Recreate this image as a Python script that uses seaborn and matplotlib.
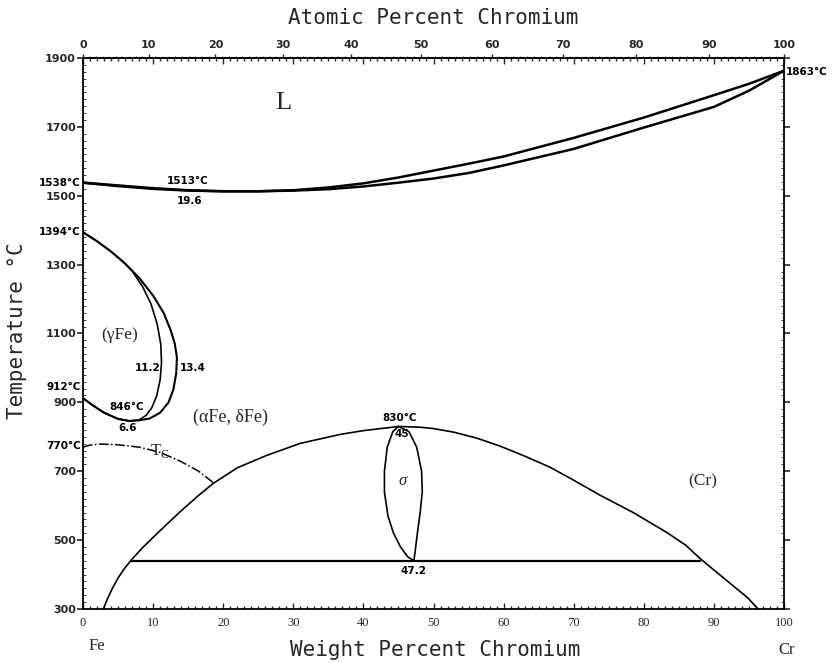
import numpy as np
import pandas as pd
import matplotlib
matplotlib.use("Agg")
import matplotlib.pyplot as plt
import seaborn as sns
from matplotlib.ticker import MultipleLocator, FixedLocator

sns.set_style("ticks")
plt.rcParams['font.family'] = ['DejaVu Sans']

# ---------------- data (weight % Cr, temperature in C) ----------------
liq_w = [0, 5, 10, 15, 20, 25, 30, 35, 40, 45, 50, 55, 60, 70, 80, 90, 95, 100]
liq_t = [1538, 1530, 1522, 1516, 1513, 1513, 1516, 1524, 1536, 1553, 1573, 1593, 1614, 1668, 1727, 1792, 1825, 1863]
sol_w = [0, 5, 10, 15, 20, 25, 30, 35, 40, 45, 50, 55, 60, 70, 80, 90, 95, 100]
sol_t = [1538, 1528, 1520, 1515, 1513, 1513, 1515, 1519, 1527, 1538, 1550, 1566, 1588, 1636, 1698, 1758, 1805, 1863]

gout_w = [0, 2, 4, 6, 8, 10, 11.5, 12.5, 13.1, 13.4, 13.3, 12.9, 12.2, 11.0, 9.5, 8.0, 6.6, 5.0, 3.0, 1.5, 0]
gout_t = [1394, 1368, 1338, 1303, 1262, 1210, 1160, 1110, 1070, 1030, 985, 938, 900, 870, 853, 848, 846, 852, 870, 890, 912]
gin_w = [0, 2, 4, 5.5, 7, 8.5, 9.7, 10.6, 11.1, 11.2, 11.0, 10.5, 9.8, 9.0, 8.0, 6.6, 5.0, 3.0, 1.5, 0]
gin_t = [1394, 1368, 1338, 1313, 1282, 1236, 1186, 1126, 1068, 1015, 965, 918, 884, 862, 849, 846, 852, 870, 890, 912]

tc_w = [0, 1, 2.4, 5, 8, 11, 14, 16.5, 18.7]
tc_t = [770, 776, 779, 777, 770, 755, 728, 700, 665]

gap_w = [2.9, 3.5, 4.2, 5.0, 6.0, 7.0, 8.5, 10.0, 12.0, 14.0, 16.5, 18.6, 22.0, 26.2, 31.0, 36.7, 40.0, 43.8, 45.0,
         48.0, 50.0, 53.0, 56.2, 59.5, 63.0, 66.6, 70.0, 73.8, 78.5, 83.3, 86.0, 88.0, 90.5, 92.7, 94.8, 96.3]
gap_t = [300, 330, 360, 390, 420, 445, 478, 508, 547, 585, 630, 665, 710, 746, 781, 807, 818, 827, 830,
         828, 824, 813, 796, 773, 744, 712, 674, 630, 580, 522, 485, 447, 405, 368, 333, 300]

eut_w = [6.9, 88]
eut_t = [440, 440]

sig_l_w = [45, 44.2, 43.4, 43.0, 43.0, 43.5, 44.3, 45.3, 46.3, 47.2]
sig_l_t = [830, 815, 770, 700, 640, 570, 520, 480, 452, 440]
sig_r_w = [45, 46.5, 47.6, 48.3, 48.4, 48.1, 47.7, 47.4, 47.2]
sig_r_t = [830, 815, 770, 700, 640, 580, 520, 470, 440]

y_ticks = [300, 500, 700, 900, 1100, 1300, 1500, 1700, 1900]
x_ticks = [0, 10, 20, 30, 40, 50, 60, 70, 80, 90, 100]

# ---------------- figure ----------------
fig = plt.figure(figsize=(8.4, 6.63), dpi=100)
ax = fig.add_axes([83/840, 1-609/663, 701/840, 551/663])

def curve(xs, ys, lw=1.2, ls='-'):
    df = pd.DataFrame({'w': xs, 't': ys})
    sns.lineplot(data=df, x='w', y='t', sort=False, estimator=None,
                 color='black', linewidth=lw, linestyle=ls, ax=ax)

curve(liq_w, liq_t, lw=1.8)
curve(sol_w, sol_t, lw=1.8)
curve(gout_w, gout_t, lw=1.5)
curve(gin_w, gin_t, lw=1.2)
curve(tc_w, tc_t, lw=1.1, ls='-.')
curve(gap_w, gap_t, lw=1.2)
curve(eut_w, eut_t, lw=1.6)
curve(sig_l_w, sig_l_t, lw=1.2)
curve(sig_r_w, sig_r_t, lw=1.2)

ax.set_xlim(0, 100)
ax.set_ylim(300, 1900)
ax.xaxis.set_major_locator(FixedLocator(x_ticks))
ax.yaxis.set_major_locator(FixedLocator(y_ticks))
ax.xaxis.set_minor_locator(MultipleLocator(1))
ax.yaxis.set_minor_locator(MultipleLocator(20))
for s in ax.spines.values():
    s.set_linewidth(1.3)
    s.set_color('black')

ax.tick_params(axis='x', which='both', top=True, bottom=True, direction='in', length=4, width=1)
ax.tick_params(axis='x', which='minor', length=2)
ax.tick_params(axis='x', which='major', labelsize=9, pad=6)
ax.tick_params(axis='y', which='major', left=True, right=True, direction='out', length=4, width=1.2, labelsize=8, pad=1)
ax.tick_params(axis='y', which='minor', left=True, right=True, direction='in', length=2)
for lab in ax.get_xticklabels():
    lab.set_fontfamily('Liberation Serif')
for lab in ax.get_yticklabels():
    lab.set_fontweight('bold')

ax.set_xlabel('Weight Percent Chromium', fontfamily='DejaVu Sans Mono', fontsize=15)
ax.xaxis.set_label_coords(0.502, -0.057)
ax.set_ylabel('Temperature °C', fontfamily='DejaVu Sans Mono', fontsize=15)
ax.yaxis.set_label_coords(-0.080, 0.506)

# top axis: atomic percent
M_FE, M_CR = 55.845, 51.996
def wt2at(w):
    w = np.clip(np.asarray(w, dtype=float), 0, 100)
    a = (w / M_CR) / (w / M_CR + (100 - w) / M_FE + 1e-12)
    return a * 100
def at2wt(a):
    a = np.clip(np.asarray(a, dtype=float), 0, 100)
    w = a * M_CR / (a * M_CR + (100 - a) * M_FE + 1e-12)
    return w * 100
sec = ax.secondary_xaxis('top', functions=(wt2at, at2wt))
sec.xaxis.set_major_locator(FixedLocator(x_ticks))
sec.xaxis.set_minor_locator(MultipleLocator(1))
sec.tick_params(which='major', direction='out', length=3, width=1, labelsize=8, pad=3)
sec.tick_params(which='minor', direction='out', length=1.5)
for lab in sec.get_xticklabels():
    lab.set_fontweight('bold')
sec.spines['top'].set_linewidth(1.3)
sec.set_xlabel('Atomic Percent Chromium', fontfamily='DejaVu Sans Mono', fontsize=15, labelpad=11)

# ---------------- annotations ----------------
ytr = ax.get_yaxis_transform()
xtr = ax.get_xaxis_transform()
small = dict(fontsize=7.5, fontweight='bold', color='black')
ax.text(-0.003, 1538, '1538°C', ha='right', va='center', transform=ytr, **small)
ax.text(-0.003, 1394, '1394°C', ha='right', va='center', transform=ytr, **small)
ax.text(-0.003, 945, '912°C', ha='right', va='center', transform=ytr, **small)
ax.text(-0.003, 772, '770°C', ha='right', va='center', transform=ytr, **small)
ax.text(1.003, 1860, '1863°C', ha='left', va='center', transform=ytr, **small)

ax.text(15, 1542, '1513°C', ha='center', va='center', **small)
ax.text(15.2, 1484, '19.6', ha='center', va='center', **small)
ax.text(9.2, 1000, '11.2', ha='center', va='center', **small)
ax.text(15.6, 1000, '13.4', ha='center', va='center', **small)
ax.text(6.3, 886, '846°C', ha='center', va='center', **small)
ax.text(6.4, 825, '6.6', ha='center', va='center', **small)
ax.text(45.2, 854, '830°C', ha='center', va='center', **small)
ax.text(45.5, 807, '45', ha='center', va='center', **small)
ax.text(47.2, 410, '47.2', ha='center', va='center', **small)

serif = 'Liberation Serif'
ax.text(28.5, 1768, 'L', ha='center', va='center', fontsize=19, fontfamily=serif)
ax.text(5.2, 1097, '(γFe)', ha='center', va='center', fontsize=12.5, fontfamily=serif)
ax.text(21.0, 857, '(αFe, δFe)', ha='center', va='center', fontsize=13, fontfamily=serif)
ax.text(11.0, 760, r'T$_\mathregular{C}$', ha='center', va='center', fontsize=12, fontfamily=serif)
ax.text(45.6, 671, 'σ', ha='center', va='center', fontsize=12, fontfamily=serif, style='italic')
ax.text(88.4, 671, '(Cr)', ha='center', va='center', fontsize=12.5, fontfamily=serif)
ax.text(2.0, -0.067, 'Fe', ha='center', va='center', transform=xtr, fontsize=12, fontfamily=serif)
ax.text(100.4, -0.074, 'Cr', ha='center', va='center', transform=xtr, fontsize=12, fontfamily=serif)

fig.savefig('out.png', dpi=100)
